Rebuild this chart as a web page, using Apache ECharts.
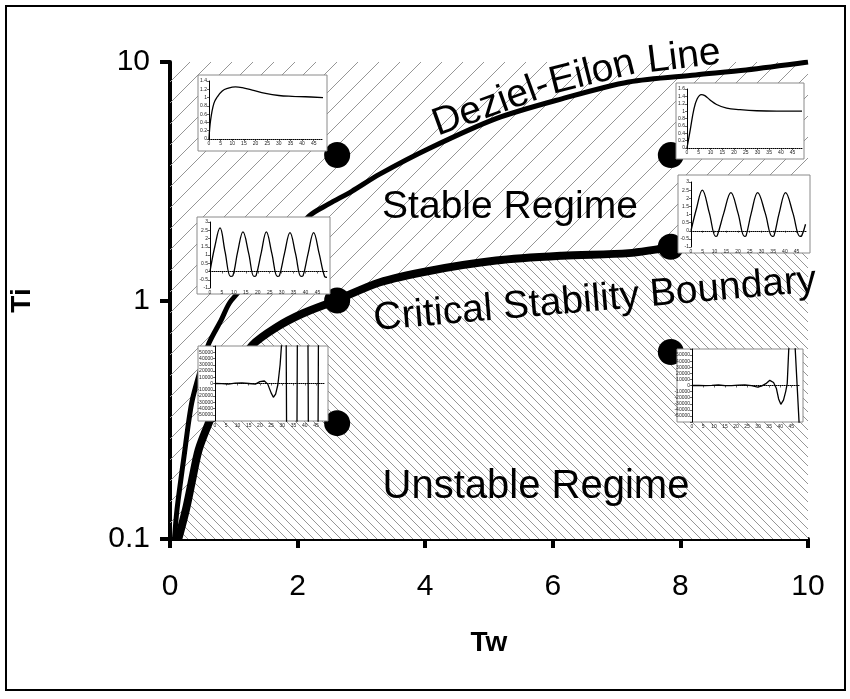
<!DOCTYPE html>
<html>
<head>
<meta charset="utf-8">
<script src="https://cdn.jsdelivr.net/npm/echarts@6/dist/echarts.min.js"></script>
<style>html,body{margin:0;padding:0;background:#fff}#chart{width:850px;height:699px}</style>
</head>
<body>
<div id="chart"></div>
<script>
// boundary curves, Tw vs Ti
var dezielTw = [0.07, 0.11, 0.22, 0.34, 0.49, 0.61, 0.80, 0.96, 2.18, 2.49, 2.85, 3.28, 4.06, 5.11, 6.14, 7.19, 8.24, 9.03, 10];
var dezielTi = [0.1, 0.133, 0.222, 0.372, 0.526, 0.662, 0.826, 1.0, 2.26, 2.54, 2.87, 3.38, 4.34, 5.79, 7.01, 8.25, 8.83, 9.26, 10];
var criticalTw = [0.13, 0.25, 0.34, 0.45, 0.61, 0.82, 1.03, 1.29, 1.66, 2.07, 2.6, 3.28, 4.06, 5.11, 6.14, 7.19, 7.84, 10];
var criticalTi = [0.1, 0.133, 0.173, 0.237, 0.307, 0.41, 0.51, 0.65, 0.77, 0.88, 1.0, 1.19, 1.33, 1.47, 1.54, 1.58, 1.66, 1.73];

// simulated cases
var pointTw = [2.62, 7.85, 2.62, 7.85, 2.62, 7.85];
var pointTi = [4.07, 4.07, 1.0, 1.68, 0.306, 0.608];

// step responses shown in the small insets (time, output)
var resp1 = [[0,0],[0.7,0.46],[2.1,0.86],[3.6,1.02],[5.7,1.16],[7.9,1.22],[11.4,1.26],[14.3,1.24],[18.6,1.18],[24.3,1.10],[30,1.05],[35.7,1.03],[41.4,1.02],[49,1.0]];
var resp2 = [[0,0],[1.4,0.5],[2.9,1.04],[4.3,1.33],[6.1,1.45],[7.6,1.42],[9.7,1.31],[12.6,1.18],[16.9,1.08],[22.6,1.04],[29.7,1.01],[38.3,1.0],[49,1.0]];
var resp3 = [[0,0],[2,1.5],[4.2,2.64],[6.3,1.2],[8.6,-0.3],[9.6,-0.25],[11.6,1.2],[13.8,2.4],[16.2,1.1],[18.4,-0.3],[19.3,-0.25],[21.4,1.1],[23.6,2.4],[25.9,1.1],[28.2,-0.3],[29.1,-0.25],[31.2,1.1],[33.5,2.36],[35.8,1.1],[38.1,-0.3],[39,-0.25],[41.1,1.1],[43.4,2.36],[45.7,1.1],[48,-0.3],[49,-0.35]];
var resp4 = [[0,0],[3,-300],[6,-1000],[9,500],[12,1000],[15,0],[18,-1000],[20,3000],[22,4000],[23.5,-1000],[25,-15000],[26,-22000],[27,-17000],[28,-2000],[29,30000],[29.8,70000],[30.6,900000],[31.8,0],[34.2,-2000000],[36.6,0],[39,2000000],[41.5,0],[43.7,-2000000],[46,0],[48,2000000]];
var resp5 = [[0,0],[2.4,1.4],[4.8,2.5],[7.8,1.1],[10.5,-0.35],[11.2,-0.3],[14,1.1],[17,2.35],[20,1.1],[22.8,-0.35],[23.5,-0.3],[25.7,1.1],[28.4,2.35],[31.6,1.1],[34.6,-0.35],[35.4,-0.3],[37.6,1.1],[40.3,2.35],[43.4,1.1],[46.4,-0.35],[47.2,-0.3],[48.8,0.4]];
var resp6 = [[0,0],[3,300],[6,-300],[9,200],[12,800],[15,-300],[18,-200],[21,600],[24,800],[27,-300],[29.8,-2700],[31.5,-1000],[33.5,3000],[35.3,8500],[37,5000],[38.3,-5000],[39.3,-22000],[40.3,-31000],[41.5,-24000],[42.5,-10000],[43.2,3000],[43.9,60000],[45.3,160000],[46.8,62000],[48.6,-62000],[49,-100000]];

function zip(a, b) {
    return a.map(function (v, i) { return [v, b[i]]; });
}

// diagonal hatch tile
function hatch(size, dir, color, bg) {
    var c = document.createElement('canvas');
    c.width = c.height = size;
    var g = c.getContext('2d');
    if (bg) { g.fillStyle = bg; g.fillRect(0, 0, size, size); }
    g.strokeStyle = color;
    g.lineWidth = 1;
    g.beginPath();
    if (dir === '/') {
        g.moveTo(-1, size + 1); g.lineTo(size + 1, -1);
        g.moveTo(-2, 2); g.lineTo(2, -2);
        g.moveTo(size - 2, size + 2); g.lineTo(size + 2, size - 2);
    } else {
        g.moveTo(-1, -1); g.lineTo(size + 1, size + 1);
        g.moveTo(size - 2, -2); g.lineTo(size + 2, 2);
        g.moveTo(-2, size - 2); g.lineTo(2, size + 2);
    }
    g.stroke();
    return c;
}

var myChart = echarts.init(document.getElementById('chart'));
var font = '"Liberation Sans", Arial, sans-serif';
var deg = Math.PI / 180;

var insets = [
    {box: [198, 75, 129, 76], grid: [209, 81, 114, 58], y: [0, 1.4, 0.2], data: resp1, smooth: 0.4},
    {box: [676, 83, 128, 76], grid: [687, 89, 115, 59], y: [0, 1.6, 0.2], data: resp2, smooth: 0.4},
    {box: [197, 217, 133, 77], grid: [210, 222, 117, 66], y: [-1, 3, 0.5], data: resp3, smooth: 0.4},
    {box: [198, 346, 130, 75], grid: [215, 346, 110, 75], y: [-60000, 60000, 10000], data: resp4, smooth: false},
    {box: [678, 175, 132, 78], grid: [691, 182, 115, 65], y: [-1, 3, 0.5], data: resp5, smooth: 0.4},
    {box: [677, 349, 126, 73], grid: [692, 349, 108, 73], y: [-60000, 60000, 10000], data: resp6, smooth: false}
];

var grids = [{left: 170, right: 42, top: 62, bottom: 160}];
var xAxes = [{
    type: 'value', gridIndex: 0, min: 0, max: 10, interval: 2,
    axisLine: {show: true, lineStyle: {color: '#000', width: 4}},
    axisTick: {show: true, length: 9, lineStyle: {color: '#000', width: 4}},
    axisLabel: {fontSize: 30, color: '#000', margin: 33, fontFamily: font},
    splitLine: {show: false},
    name: 'Tw', nameLocation: 'middle', nameGap: 90,
    nameTextStyle: {fontSize: 28, fontWeight: 'bold', color: '#000', fontFamily: font}
}];
var yAxes = [{
    type: 'log', logBase: 10, gridIndex: 0, min: 0.1, max: 10,
    axisLine: {show: true, lineStyle: {color: '#000', width: 4}},
    axisTick: {show: true, length: 10, lineStyle: {color: '#000', width: 4}},
    minorTick: {show: false},
    axisLabel: {fontSize: 30, color: '#000', margin: 20, fontFamily: font},
    splitLine: {show: false},
    name: 'Ti', nameLocation: 'middle', nameGap: 134,
    nameTextStyle: {fontSize: 28, fontWeight: 'bold', color: '#000', fontFamily: font}
}];

var series = [
    {
        name: 'stable region', type: 'line', data: [[0, 10], [10, 10]],
        symbol: 'none', lineStyle: {width: 0}, silent: true, z: 1,
        areaStyle: {origin: 'start', opacity: 1, color: {image: hatch(21, '/', '#969696'), repeat: 'repeat'}}
    },
    {
        name: 'Critical Stability Boundary', type: 'line', data: zip(criticalTw, criticalTi),
        smooth: 0.3, symbol: 'none', z: 2,
        lineStyle: {color: '#000', width: 8},
        areaStyle: {origin: 'start', opacity: 1, color: {image: hatch(9, '\\', '#969696', '#fff'), repeat: 'repeat'}}
    },
    {
        name: 'Deziel-Eilon Line', type: 'line', data: zip(dezielTw, dezielTi),
        smooth: 0.3, symbol: 'none', z: 2,
        lineStyle: {color: '#000', width: 5}
    },
    {
        name: 'cases', type: 'scatter', data: zip(pointTw, pointTi),
        symbolSize: 26, itemStyle: {color: '#000', opacity: 1}, z: 3
    }
];

function label(text, x, y, size, rot) {
    return {type: 'text', x: x, y: y, rotation: (rot || 0) * deg, z: 4,
        style: {text: text, fontSize: size, fontFamily: font, fill: '#000', align: 'center', verticalAlign: 'middle'}};
}

var graphics = [
    {type: 'rect', shape: {x: 6, y: 6, width: 839, height: 684}, style: {fill: 'none', stroke: '#000', lineWidth: 2}, z: 30},
    label('Deziel-', 491, 105, 39, 20),
    label('Eilon', 592, 73, 39, 14),
    label('Line', 684, 57, 39, 7),
    label('Stable Regime', 510, 207, 39),
    label('Critical Stability Boundary', 595, 300, 39, 5),
    label('Unstable Regime', 536, 487, 40)
];

insets.forEach(function (ins, i) {
    var k = i + 1;
    graphics.push({type: 'rect', z: 10,
        shape: {x: ins.box[0], y: ins.box[1], width: ins.box[2], height: ins.box[3]},
        style: {fill: '#fff', stroke: '#8a8a8a', lineWidth: 1}});
    grids.push({left: ins.grid[0], top: ins.grid[1], width: ins.grid[2], height: ins.grid[3]});
    xAxes.push({
        type: 'value', gridIndex: k, min: 0, max: 49, interval: 5, z: 11,
        axisLine: {show: true, onZero: true, lineStyle: {color: '#000', width: 1, type: 'dotted'}},
        axisTick: {show: true, length: 2, lineStyle: {color: '#000', width: 0.6}},
        axisLabel: {fontSize: 5, color: '#222', margin: 2, showMaxLabel: false, fontFamily: font},
        splitLine: {show: false}
    });
    yAxes.push({
        type: 'value', gridIndex: k, min: ins.y[0], max: ins.y[1], interval: ins.y[2], z: 11,
        axisLine: {show: true, lineStyle: {color: '#000', width: 1}},
        axisTick: {show: true, length: 2, lineStyle: {color: '#000', width: 0.6}},
        axisLabel: {fontSize: 5, color: '#222', margin: 2, fontFamily: font,
            formatter: function (v) { return Math.abs(v) > 50000 ? '' : String(v); }},
        splitLine: {show: false}
    });
    series.push({
        type: 'line', xAxisIndex: k, yAxisIndex: k, data: ins.data,
        smooth: ins.smooth, symbol: 'none', clip: true, z: 12, silent: true,
        lineStyle: {color: '#000', width: 1.3}
    });
});

var option = {
    backgroundColor: '#fff',
    animation: false,
    grid: grids,
    xAxis: xAxes,
    yAxis: yAxes,
    series: series,
    graphic: graphics
};

myChart.setOption(option);
</script>
</body>
</html>
